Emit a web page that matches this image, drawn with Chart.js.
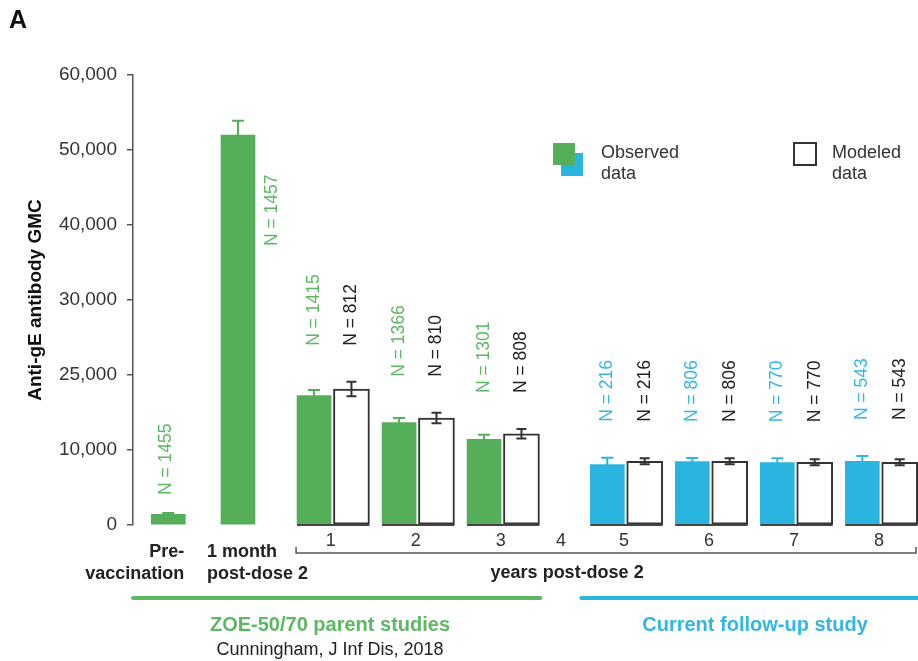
<!DOCTYPE html>
<html>
<head>
<meta charset="utf-8">
<script src="https://cdn.jsdelivr.net/npm/chart.js@4/dist/chart.umd.min.js"></script>
<style>
  html, body { margin: 0; padding: 0; background: #fff; }
  #wrap { width: 918px; height: 661px; }
</style>
</head>
<body>
<div id="wrap"><canvas id="plot"></canvas></div>
<script>
// timepoints: pre, 1 month, then years post-dose 2 (year 4 has no data)
const timepoints = ["Pre-\nvaccination", "1 month\npost-dose 2", "1", "2", "3", "4", "5", "6", "7", "8"];
const study = ["parent", "parent", "parent", "parent", "parent", "parent", "followup", "followup", "followup", "followup"];

const observedGMC = [1430, 52000, 17240, 13640, 11430, null, 8040, 8440, 8310, 8490];
const observedErr = [170, 1900, 760, 630, 610, null, 930, 490, 580, 710];
const observedN   = [1455, 1457, 1415, 1366, 1301, null, 216, 806, 770, 543];

const modeledGMC = [null, null, 18130, 14270, 12170, null, 8490, 8490, 8360, 8360];
const modeledErr = [null, null, 960, 700, 620, null, 400, 400, 400, 400];
const modeledN   = [null, null, 812, 810, 808, null, 216, 806, 770, 543];

const yTickLabels = ["0", "10,000", "25,000", "30,000", "40,000", "50,000", "60,000"];

// layout: where each timepoint sits on the (hidden) x scale
const slotX = [0.415, 1.235, 2.35, 3.35, 4.35, 5.06, 5.8, 6.8, 7.8, 8.8];
const PAIR = 0.22;

const FONT = "'Liberation Sans', Arial, Helvetica, sans-serif";
const GREEN = "#55ae59";
const BLUE = "#2ab4e0";
const GREEN_TXT = "#5cb862";
const BLUE_TXT = "#33b6e4";
const DARK = "#333";

const colorOf = i => study[i] === "parent" ? GREEN : BLUE;
const textColorOf = i => study[i] === "parent" ? GREEN_TXT : BLUE_TXT;

const obsIdx = [], modIdx = [];
const obsData = [], modData = [];
timepoints.forEach((t, i) => {
  if (observedGMC[i] != null) {
    obsIdx.push(i);
    obsData.push({ x: modeledGMC[i] != null ? slotX[i] - PAIR : slotX[i], y: observedGMC[i] });
  }
  if (modeledGMC[i] != null) {
    modIdx.push(i);
    modData.push({ x: slotX[i] + PAIR, y: modeledGMC[i] });
  }
});

const vtext = (ctx, text, x, yb) => {
  ctx.save();
  ctx.translate(x, yb);
  ctx.rotate(-Math.PI / 2);
  ctx.textAlign = "left";
  ctx.textBaseline = "middle";
  ctx.fillText(text, 0, 0);
  ctx.restore();
};

const annotate = {
  id: "annotate",
  afterDatasetsDraw(chart) {
    const { ctx, chartArea: area, scales: { x, y } } = chart;
    const obsMeta = chart.getDatasetMeta(0).data;
    const modMeta = chart.getDatasetMeta(1).data;
    const topPx = {};

    // error bars, observed (upper only)
    ctx.save();
    ctx.lineWidth = 2;
    obsIdx.forEach((i, k) => {
      const bar = obsMeta[k];
      const yt = y.getPixelForValue(observedGMC[i] + observedErr[i]);
      ctx.strokeStyle = colorOf(i);
      ctx.beginPath();
      ctx.moveTo(bar.x, bar.y);
      ctx.lineTo(bar.x, yt);
      ctx.moveTo(bar.x - 6, yt);
      ctx.lineTo(bar.x + 6, yt);
      ctx.stroke();
      topPx[i] = yt;
    });
    // error bars, modeled (both sides)
    ctx.strokeStyle = DARK;
    modIdx.forEach((i, k) => {
      const bar = modMeta[k];
      const yt = y.getPixelForValue(modeledGMC[i] + modeledErr[i]);
      const yb = y.getPixelForValue(modeledGMC[i] - modeledErr[i]);
      ctx.beginPath();
      ctx.moveTo(bar.x, yb);
      ctx.lineTo(bar.x, yt);
      ctx.moveTo(bar.x - 5, yt);
      ctx.lineTo(bar.x + 5, yt);
      ctx.moveTo(bar.x - 5, yb);
      ctx.lineTo(bar.x + 5, yb);
      ctx.stroke();
      topPx[i] = Math.min(topPx[i], yt);
    });

    // baseline under each paired group
    ctx.strokeStyle = "#444";
    ctx.lineWidth = 2;
    modIdx.forEach((i, k) => {
      const m = modMeta[k];
      const o = obsMeta[obsIdx.indexOf(i)];
      ctx.beginPath();
      ctx.moveTo(o.x - o.width / 2, area.bottom);
      ctx.lineTo(m.x + m.width / 2, area.bottom);
      ctx.stroke();
    });

    // N labels
    ctx.font = `17.5px ${FONT}`;
    obsIdx.forEach((i, k) => {
      const bar = obsMeta[k];
      ctx.fillStyle = textColorOf(i);
      const txt = "N = " + observedN[i];
      if (i === 1) {
        vtext(ctx, txt, bar.x + 34, bar.y + 111);
      } else {
        const gap = i === 0 ? 18 : 36;
        vtext(ctx, txt, bar.x - (i === 0 ? 2 : 0), topPx[i] - gap);
      }
    });
    ctx.fillStyle = "#222";
    modIdx.forEach((i, k) => {
      const bar = modMeta[k];
      vtext(ctx, "N = " + modeledN[i], bar.x, topPx[i] - 36);
    });

    // x labels
    ctx.fillStyle = "#222";
    ctx.textBaseline = "middle";
    ctx.font = `bold 18px ${FONT}`;
    const pre = obsMeta[0], mon = obsMeta[1];
    const preLines = timepoints[0].split("\n");
    const monLines = timepoints[1].split("\n");
    ctx.textAlign = "right";
    ctx.fillText(preLines[0], pre.x + 16, area.bottom + 27);
    ctx.fillText(preLines[1], pre.x + 16, area.bottom + 49);
    ctx.textAlign = "left";
    ctx.fillText(monLines[0], mon.x - 31, area.bottom + 27);
    ctx.fillText(monLines[1], mon.x - 31, area.bottom + 49);

    ctx.font = `18px ${FONT}`;
    ctx.textAlign = "center";
    ctx.fillStyle = "#333";
    for (let i = 2; i < timepoints.length; i++) {
      ctx.fillText(timepoints[i], x.getPixelForValue(slotX[i]) - 2, area.bottom + 16);
    }

    // years bracket
    const bx0 = x.getPixelForValue(slotX[2] - PAIR) - 18;
    const bx1 = Math.min(x.getPixelForValue(slotX[9] + PAIR) + 17, chart.width - 2);
    const by = area.bottom + 28;
    ctx.strokeStyle = "#555";
    ctx.lineWidth = 1.5;
    ctx.beginPath();
    ctx.moveTo(bx0, by - 6);
    ctx.lineTo(bx0, by);
    ctx.lineTo(bx1, by);
    ctx.lineTo(bx1, by - 6);
    ctx.stroke();
    ctx.fillStyle = "#222";
    ctx.font = `bold 18px ${FONT}`;
    ctx.fillText("years post-dose 2", x.getPixelForValue(slotX[5]) + 4, area.bottom + 48);

    // study lines
    const ly = area.bottom + 73;
    const gEnd = x.getPixelForValue(slotX[4] + PAIR) + 19;
    const bStart = x.getPixelForValue(slotX[6] - PAIR) - 26;
    ctx.lineWidth = 4;
    ctx.lineCap = "round";
    ctx.strokeStyle = GREEN_TXT;
    ctx.beginPath();
    ctx.moveTo(area.left, ly);
    ctx.lineTo(gEnd, ly);
    ctx.stroke();
    ctx.strokeStyle = BLUE;
    ctx.beginPath();
    ctx.moveTo(bStart, ly);
    ctx.lineTo(chart.width + 4, ly);
    ctx.stroke();

    ctx.font = `bold 20px ${FONT}`;
    ctx.fillStyle = GREEN_TXT;
    ctx.fillText("ZOE-50/70 parent studies", 330, area.bottom + 100);
    ctx.fillStyle = BLUE_TXT;
    ctx.fillText("Current follow-up study", 755, area.bottom + 100);
    ctx.font = `18px ${FONT}`;
    ctx.fillStyle = "#222";
    ctx.fillText("Cunningham, J Inf Dis, 2018", 330, area.bottom + 125);

    // legend
    ctx.fillStyle = BLUE;
    ctx.fillRect(561, 153, 22, 23);
    ctx.fillStyle = GREEN;
    ctx.fillRect(553, 143, 22, 22);
    ctx.strokeStyle = DARK;
    ctx.lineWidth = 2;
    ctx.strokeRect(794, 143, 22, 22);
    ctx.fillStyle = "#333";
    ctx.font = `18px ${FONT}`;
    ctx.textAlign = "left";
    ctx.fillText("Observed", 601, 153);
    ctx.fillText("data", 601, 174);
    ctx.fillText("Modeled", 832, 153);
    ctx.fillText("data", 832, 174);

    // panel letter
    ctx.font = `bold 25px ${FONT}`;
    ctx.fillStyle = "#111";
    ctx.fillText("A", 9, 21);
    ctx.restore();
  }
};

new Chart(document.getElementById("plot"), {
  type: "bar",
  data: {
    datasets: [
      {
        label: "Observed data",
        data: obsData,
        backgroundColor: obsIdx.map(colorOf),
        barThickness: 34,
        borderWidth: 0
      },
      {
        label: "Modeled data",
        data: modData,
        backgroundColor: "#fff",
        borderColor: DARK,
        borderWidth: 2,
        borderSkipped: false,
        barThickness: 36
      }
    ]
  },
  options: {
    responsive: true,
    maintainAspectRatio: false,
    animation: false,
    grouped: false,
    layout: { padding: { top: 75, bottom: 136, left: 0, right: 0 } },
    plugins: {
      legend: { display: false },
      tooltip: { enabled: false }
    },
    scales: {
      x: {
        type: "linear",
        min: 0,
        max: 9.235,
        offset: false,
        display: false
      },
      y: {
        min: 0,
        max: 60000,
        afterFit: s => { s.width = 133; },
        border: { color: "#555", width: 1.5 },
        grid: { drawOnChartArea: false, drawTicks: true, tickLength: 6, color: "#555", lineWidth: 1.5 },
        ticks: {
          stepSize: 10000,
          padding: 10,
          color: "#333",
          font: { size: 19, family: FONT },
          callback: (v, i) => yTickLabels[i]
        },
        title: {
          display: true,
          text: "Anti-gE antibody GMC",
          color: "#111",
          font: { size: 19, weight: "bold", family: FONT },
          padding: { top: 24, bottom: 0 }
        }
      }
    }
  },
  plugins: [annotate]
});
</script>
</body>
</html>
